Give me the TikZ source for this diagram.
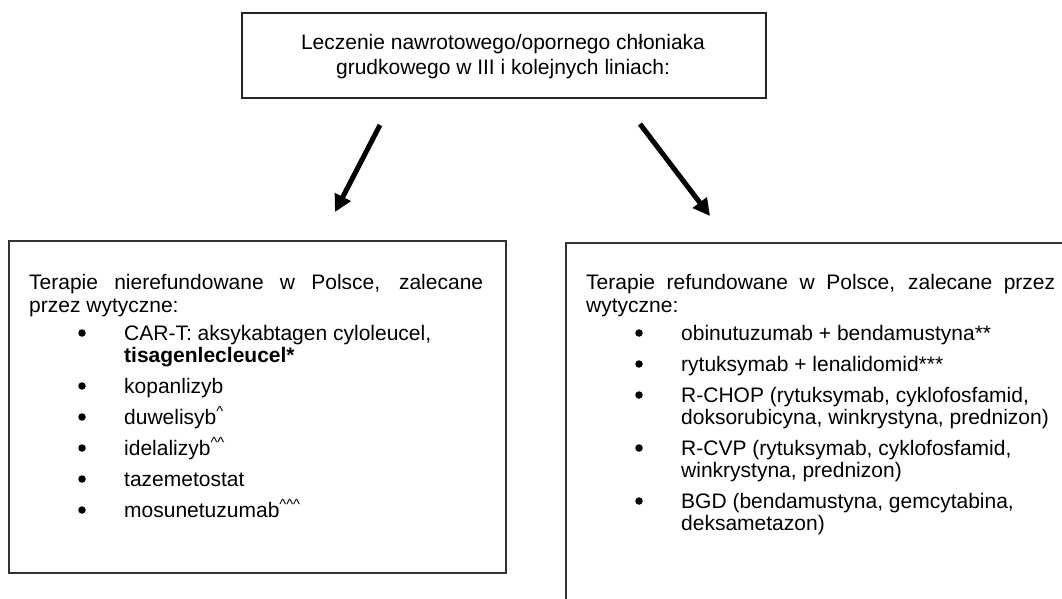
\documentclass[tikz,border=0pt]{standalone}
\usepackage{fontspec}
\setmainfont{Liberation Sans}
\usetikzlibrary{arrows.meta}
\begin{document}
\begin{tikzpicture}[x=1pt,y=-1pt,
  box/.style={draw=black!80, line width=1.5pt, inner sep=0pt},
  topbox/.style={draw=black!85, line width=2pt, inner sep=0pt},
  txt/.style={anchor=base west, inner sep=0pt, font=\fontsize{21}{23}\selectfont},
  ctxt/.style={anchor=base, inner sep=0pt, font=\fontsize{21}{23}\selectfont},
  bul/.style={circle, fill=black, inner sep=0pt, minimum size=7.5pt},
  arr/.style={line width=5pt, -{Triangle[length=17pt,width=17pt]}}
]
\useasboundingbox (0,0) rectangle (1062,598);
\fill[white] (0,0) rectangle (1062,598);

% top box
\node[topbox, minimum width=524pt, minimum height=85pt, anchor=north west] (top) at (241,12) {};
\node[ctxt] (t1) at (503,49) {Leczenie nawrotowego/opornego chłoniaka};
\node[ctxt] (t2) at (503,74) {grudkowego w III i kolejnych liniach:};

% arrows
\coordinate (a1s) at (380,125);
\coordinate (a1e) at (335,212);
\coordinate (a2s) at (640,124);
\coordinate (a2e) at (710,216);
\draw[arr] (a1s) -- (a1e);
\draw[arr] (a2s) -- (a2e);

% left box
\node[box, minimum width=497pt, minimum height=332pt, anchor=north west] (left) at (8,240) {};
\node[txt] (l0a) at (29,289) {\makebox[454pt][s]{Terapie nierefundowane w Polsce, zalecane}};
\node[txt] (l0b) at (29,312) {przez wytyczne:};
\node[bul] (lb1) at (82,333) {};
\node[txt] (l1a) at (124,340) {CAR-T: aksykabtagen cyloleucel,};
\node[txt] (l1b) at (124,362) {\textbf{tisagenlecleucel*}};
\node[bul] (lb2) at (82,386) {};
\node[txt] (l2) at (124,393) {kopanlizyb};
\node[bul] (lb3) at (82,417) {};
\node[txt] (l3) at (124,424) {duwelisyb\textsuperscript{\textasciicircum}};
\node[bul] (lb4) at (82,448) {};
\node[txt] (l4) at (124,455) {idelalizyb\textsuperscript{\textasciicircum\textasciicircum}};
\node[bul] (lb5) at (82,479) {};
\node[txt] (l5) at (124,486) {tazemetostat};
\node[bul] (lb6) at (82,510) {};
\node[txt] (l6) at (124,517) {mosunetuzumab\textsuperscript{\textasciicircum\textasciicircum\textasciicircum}};

% right box
\node[box, minimum width=540pt, minimum height=400pt, anchor=north west] (right) at (565,242) {};
\node[txt] (r0a) at (586,289) {\makebox[469pt][s]{Terapie refundowane w Polsce, zalecane przez}};
\node[txt] (r0b) at (586,312) {wytyczne:};
\node[bul] (rb1) at (639,333) {};
\node[txt] (r1) at (681,340) {obinutuzumab + bendamustyna**};
\node[bul] (rb2) at (639,364) {};
\node[txt] (r2) at (681,371) {rytuksymab + lenalidomid***};
\node[bul] (rb3) at (639,395) {};
\node[txt] (r3a) at (681,402) {R-CHOP (rytuksymab, cyklofosfamid,};
\node[txt] (r3b) at (681,424) {doksorubicyna, winkrystyna, prednizon)};
\node[bul] (rb4) at (639,448) {};
\node[txt] (r4a) at (681,455) {R-CVP (rytuksymab, cyklofosfamid,};
\node[txt] (r4b) at (681,477) {winkrystyna, prednizon)};
\node[bul] (rb5) at (639,501) {};
\node[txt] (r5a) at (681,508) {BGD (bendamustyna, gemcytabina,};
\node[txt] (r5b) at (681,530) {deksametazon)};
\end{tikzpicture}
\end{document}
